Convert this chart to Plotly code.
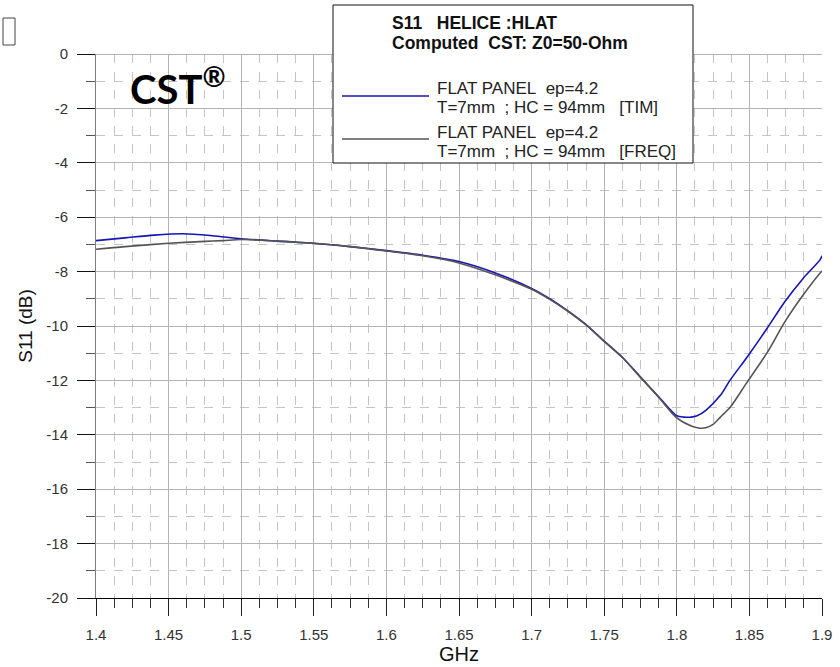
import plotly.graph_objects as go

# S11 simulation results, frequency in GHz, magnitude in dB
freq_tim = [1.40, 1.42, 1.44, 1.46, 1.48, 1.50, 1.525, 1.55, 1.575, 1.60,
            1.625, 1.65, 1.675, 1.70, 1.7125, 1.724, 1.7375, 1.749, 1.7625,
            1.7747, 1.7875, 1.80, 1.805, 1.81, 1.814, 1.82, 1.83, 1.8366,
            1.849, 1.862, 1.8745, 1.887, 1.8986, 1.90]
s11_tim = [-6.86, -6.76, -6.66, -6.61, -6.68, -6.79, -6.88, -6.96, -7.08, -7.23,
           -7.40, -7.63, -8.05, -8.62, -9.00, -9.41, -9.95, -10.51, -11.15,
           -11.86, -12.60, -13.30, -13.35, -13.35, -13.30, -13.10, -12.55, -12.00,
           -11.10, -10.10, -9.10, -8.25, -7.57, -7.42]

freq_freq = [1.40, 1.42, 1.45, 1.475, 1.4875, 1.50, 1.525, 1.55, 1.575, 1.60,
             1.625, 1.65, 1.675, 1.70, 1.7125, 1.724, 1.7375, 1.749, 1.7625,
             1.7747, 1.7875, 1.80, 1.81, 1.815, 1.82, 1.825, 1.83, 1.8366,
             1.848, 1.862, 1.8745, 1.887, 1.8986, 1.90]
s11_freq = [-7.18, -7.08, -6.96, -6.89, -6.86, -6.82, -6.88, -6.96, -7.08, -7.24,
            -7.42, -7.68, -8.12, -8.65, -9.02, -9.42, -9.96, -10.52, -11.16,
            -11.87, -12.62, -13.38, -13.68, -13.75, -13.74, -13.62, -13.35, -13.00,
            -12.10, -11.00, -9.84, -8.86, -8.06, -7.98]

x_ticks = [1.4, 1.45, 1.5, 1.55, 1.6, 1.65, 1.7, 1.75, 1.8, 1.85, 1.9]
x_labels = ["1.4", "1.45", "1.5", "1.55", "1.6", "1.65", "1.7", "1.75", "1.8", "1.85", "1.9"]
y_ticks = [0, -2, -4, -6, -8, -10, -12, -14, -16, -18, -20]
y_labels = ["0", "-2", "-4", "-6", "-8", "-10", "-12", "-14", "-16", "-18", "-20"]

legend_title = ["S11\u00a0\u00a0 HELICE :HLAT", "Computed\u00a0 CST: Z0=50-Ohm"]
legend_lines = [
    ("FLAT PANEL\u00a0 ep=4.2", "T=7mm\u00a0 ; HC = 94mm\u00a0\u00a0 [TIM]"),
    ("FLAT PANEL\u00a0 ep=4.2", "T=7mm\u00a0 ; HC = 94mm\u00a0\u00a0 [FREQ]"),
]

BLUE = "#1414b8"
GRAY = "#555555"
FONT = "Liberation Sans, Arial, sans-serif"

# plot area in pixels
L, R, T, B = 96, 822, 54, 598
W, H = 840, 667


def px(x):
    return (x - L) / (R - L)


def py(y):
    return (B - y) / (B - T)


fig = go.Figure()
fig.add_trace(go.Scatter(x=freq_tim, y=s11_tim, mode="lines",
                         line=dict(color=BLUE, width=1.6, shape="spline", smoothing=0.8),
                         showlegend=False))
fig.add_trace(go.Scatter(x=freq_freq, y=s11_freq, mode="lines",
                         line=dict(color=GRAY, width=1.6, shape="spline", smoothing=0.8),
                         showlegend=False))

shapes = []
annotations = []

# legend box
shapes.append(dict(type="rect", xref="paper", yref="paper",
                   x0=px(333), x1=px(693), y0=py(163), y1=py(5),
                   line=dict(color="#111111", width=1), fillcolor="white", layer="above"))
for text, ytext in zip(legend_title, [23, 43]):
    annotations.append(dict(xref="paper", yref="paper", x=px(390), y=py(ytext),
                            xanchor="left", yanchor="middle", showarrow=False,
                            text="<b>" + text + "</b>",
                            font=dict(family=FONT, size=17.5, color="#111111")))
for (l1, l2), color, ysample, ytext in zip(legend_lines, [BLUE, GRAY], [96, 139], [88, 132]):
    shapes.append(dict(type="line", xref="paper", yref="paper",
                       x0=px(342), x1=px(429), y0=py(ysample), y1=py(ysample),
                       line=dict(color=color, width=1.6), layer="above"))
    annotations.append(dict(xref="paper", yref="paper", x=px(435), y=py(ytext),
                            xanchor="left", yanchor="middle", showarrow=False,
                            text=l1, font=dict(family=FONT, size=17, color="#222222")))
    annotations.append(dict(xref="paper", yref="paper", x=px(435), y=py(ytext + 19),
                            xanchor="left", yanchor="middle", showarrow=False,
                            text=l2, font=dict(family=FONT, size=17, color="#222222")))

# CST mark
annotations.append(dict(xref="paper", yref="paper", x=px(177), y=py(86),
                        xanchor="center", yanchor="middle", showarrow=False,
                        text="<b>CST<sup>®</sup></b>",
                        font=dict(family="Lato, sans-serif", size=40, color="black")))

# small empty box in the upper-left corner
shapes.append(dict(type="rect", xref="paper", yref="paper",
                   x0=px(3), x1=px(15), y0=py(45), y1=py(18),
                   line=dict(color="#444444", width=1)))

fig.update_layout(
    width=W, height=H,
    margin=dict(l=L, r=W - R, t=T, b=H - B),
    paper_bgcolor="white", plot_bgcolor="white",
    shapes=shapes, annotations=annotations,
    font=dict(family=FONT, color="#333333"),
)

fig.update_xaxes(
    automargin=False,
    range=[1.4, 1.9], tickvals=x_ticks, ticktext=x_labels,
    tickfont=dict(size=15, color="#333333"), ticklabelstandoff=6,
    ticks="outside", ticklen=17, tickcolor="#222222", tickwidth=1,
    showline=True, linecolor="black", linewidth=1,
    showgrid=True, gridcolor="#b4b4b4", gridwidth=1, zeroline=False,
    minor=dict(dtick=0.0125, tick0=1.4, ticks="outside", ticklen=9, tickcolor="#333333",
               showgrid=True, gridcolor="#c4c4c4", griddash="9px,9px", gridwidth=1),
    title=dict(text="GHz", font=dict(size=20, color="#111111"), standoff=4),
)
fig.update_yaxes(
    automargin=False,
    range=[-20, 0], tickvals=y_ticks, ticktext=y_labels,
    tickfont=dict(size=15, color="#333333"), ticklabelstandoff=6,
    ticks="outside", ticklen=18, tickcolor="#111111", tickwidth=1,
    showline=True, linecolor="#808080", linewidth=1,
    showgrid=True, gridcolor="#b4b4b4", gridwidth=1,
    zeroline=True, zerolinecolor="#b4b4b4", zerolinewidth=1,
    minor=dict(dtick=1, tick0=0, ticks="outside", ticklen=9, tickcolor="#555555",
               showgrid=True, gridcolor="#c4c4c4", griddash="9px,9px", gridwidth=1),
    title=dict(text="S11 (dB)", font=dict(size=19, color="#111111"), standoff=8),
)

fig.write_html("out.html")
